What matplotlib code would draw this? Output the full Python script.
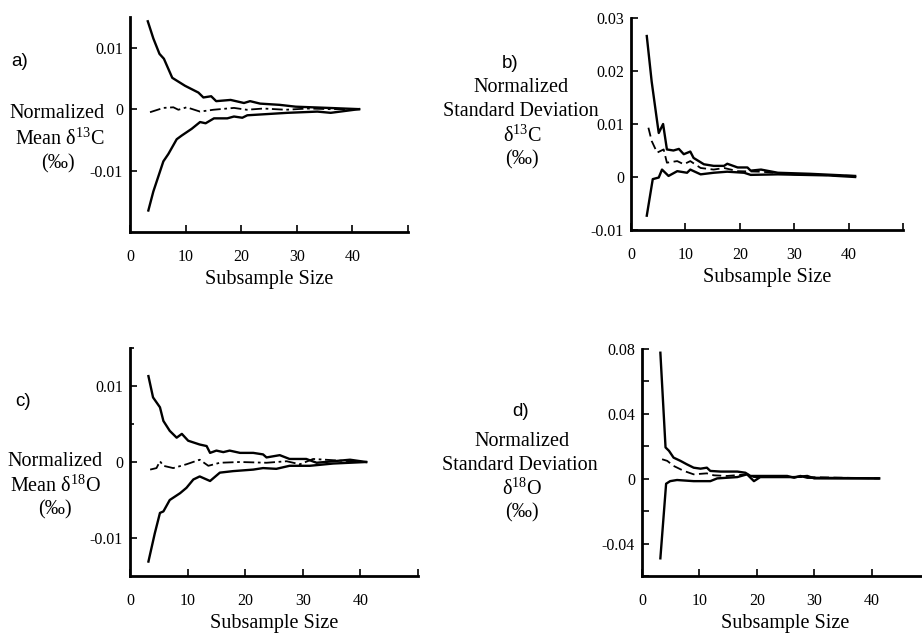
import matplotlib
matplotlib.use("Agg")
import matplotlib.pyplot as plt

plt.rcParams['font.family'] = ['Liberation Serif', 'DejaVu Serif']
plt.rcParams['mathtext.fontset'] = 'custom'
plt.rcParams['mathtext.rm'] = 'Liberation Serif'
plt.rcParams['mathtext.it'] = 'Liberation Serif:italic'

# ---- panel a: normalized mean d13C ----
a_up_x = [3.2, 4.2, 5.3, 6.1, 7.6, 9.9, 12.3, 13.2, 14.6, 15.5, 18.1, 20.5, 21.6, 23.4, 26.9, 29.8, 35.7, 41.2]
a_up_y = [0.0143, 0.0115, 0.0090, 0.0082, 0.0051, 0.0038, 0.0027, 0.0019, 0.0021, 0.0013, 0.0015,
          0.0010, 0.0013, 0.0009, 0.0007, 0.0004, 0.0002, 0.0]
a_lo_x = [3.3, 4.2, 6.0, 6.9, 8.4, 9.3, 11.1, 12.6, 13.6, 15.1, 17.5, 18.7, 20.2, 21.1, 24.7, 28.3, 33.7, 36.1, 41.2]
a_lo_y = [-0.0165, -0.0134, -0.0085, -0.0073, -0.0049, -0.0043, -0.0032, -0.0021, -0.0023, -0.0015,
          -0.0015, -0.0012, -0.0014, -0.0010, -0.0008, -0.0006, -0.0004, -0.0006, 0.0]
a_mid_x = [3.6, 6.0, 7.8, 8.7, 10.2, 12.6, 15.0, 18.7, 21.0, 24.0, 28.0, 32.0, 36.0, 41.2]
a_mid_y = [-0.0005, 0.0002, 0.0003, -0.0001, 0.0003, -0.0004, -0.0001, 0.0002, -0.0001, 0.0001,
           -0.0001, 0.0001, 0.0, 0.0]

# ---- panel b: normalized standard deviation d13C ----
b_up_x = [2.9, 3.8, 4.8, 5.1, 5.9, 6.6, 7.8, 8.8, 9.7, 10.9, 11.5, 13.4, 15.2, 17.1, 17.7, 19.6,
          21.4, 22.0, 23.9, 27.0, 33.0, 41.2]
b_up_y = [0.0266, 0.0180, 0.0105, 0.0083, 0.0100, 0.0052, 0.0050, 0.0053, 0.0043, 0.0048, 0.0036,
          0.0024, 0.0021, 0.0021, 0.0025, 0.0018, 0.0018, 0.0012, 0.0014, 0.0008, 0.0006, 0.0002]
b_mid_x = [3.2, 3.8, 4.8, 6.0, 6.6, 8.5, 9.7, 10.9, 12.8, 15.2, 17.1, 19.6, 23.9, 30.0, 41.2]
b_mid_y = [0.0093, 0.0068, 0.0046, 0.0052, 0.0027, 0.0030, 0.0024, 0.0030, 0.0017, 0.0014, 0.0017,
           0.0011, 0.0010, 0.0005, 0.0002]
b_lo_x = [2.9, 4.0, 5.1, 5.7, 6.9, 8.5, 10.3, 10.9, 12.8, 15.2, 17.7, 20.8, 22.0, 27.0, 36.2, 41.2]
b_lo_y = [-0.0073, -0.0004, -0.0001, 0.0014, 0.0002, 0.0011, 0.0008, 0.0014, 0.0005, 0.0008, 0.0010,
          0.0008, 0.0004, 0.0005, 0.0003, 0.0]

# ---- panel c: normalized mean d18O ----
c_up_x = [3.2, 4.0, 5.2, 5.8, 6.9, 8.1, 9.0, 10.1, 12.1, 13.3, 13.9, 15.0, 16.2, 17.3, 19.1, 21.4,
          23.1, 23.7, 26.0, 27.7, 30.6, 32.4, 35.3, 38.2, 41.0]
c_up_y = [0.0113, 0.0085, 0.0072, 0.0054, 0.0041, 0.0032, 0.0037, 0.0028, 0.0023, 0.0021, 0.0012,
          0.0015, 0.0013, 0.0015, 0.0012, 0.0012, 0.0010, 0.0006, 0.0009, 0.0004, 0.0004, -0.0001,
          0.0001, 0.0003, 0.0]
c_lo_x = [3.2, 4.3, 5.2, 5.8, 6.9, 8.7, 9.8, 11.0, 12.1, 13.9, 15.6, 17.9, 21.4, 23.1, 25.4, 27.7,
          31.2, 35.3, 41.0]
c_lo_y = [-0.0131, -0.0094, -0.0067, -0.0065, -0.0050, -0.0041, -0.0034, -0.0023, -0.0019, -0.0025,
          -0.0014, -0.0012, -0.0010, -0.0008, -0.0009, -0.0005, -0.0005, -0.0002, 0.0]
c_mid_x = [3.5, 4.6, 5.2, 5.8, 7.5, 9.8, 12.1, 13.6, 15.6, 19.1, 23.7, 27.2, 29.5, 31.8, 38.2, 41.0]
c_mid_y = [-0.0010, -0.0008, 0.0001, -0.0005, -0.0008, -0.0003, 0.0003, -0.0005, -0.0001, 0.0,
           -0.0001, 0.0001, -0.0003, 0.0004, 0.0001, 0.0]

# ---- panel d: normalized standard deviation d18O ----
d_up_x = [3.2, 4.1, 4.7, 5.5, 6.7, 7.8, 9.0, 10.2, 11.3, 11.9, 13.7, 16.6, 18.0, 18.9, 20.6, 25.3,
          26.5, 27.6, 28.8, 41.3]
d_up_y = [0.0777, 0.0193, 0.0172, 0.0130, 0.0110, 0.0089, 0.0068, 0.0062, 0.0068, 0.0048, 0.0044,
          0.0044, 0.0037, 0.0017, 0.0017, 0.0017, 0.0006, 0.0017, 0.0006, 0.0002]
d_mid_x = [3.5, 4.4, 5.5, 7.3, 9.0, 11.3, 12.5, 14.8, 18.3, 19.5, 23.5, 28.2, 41.3]
d_mid_y = [0.0120, 0.0110, 0.0079, 0.0048, 0.0027, 0.0033, 0.0021, 0.0017, 0.0027, 0.0010, 0.0010,
           0.0010, 0.0002]
d_lo_x = [3.2, 4.2, 4.9, 6.1, 9.0, 11.9, 13.1, 16.6, 18.3, 19.5, 20.6, 26.5, 28.8, 30.0, 41.3]
d_lo_y = [-0.0491, -0.0031, -0.0015, -0.0008, -0.0015, -0.0015, 0.0002, 0.0010, 0.0027, -0.0015,
          0.0010, 0.0010, 0.0017, 0.0002, 0.0002]

x_ticks = [0, 10, 20, 30, 40, 50]
x_labels = ['0', '10', '20', '30', '40', '']

W, H = 922, 633
fig = plt.figure(figsize=(W / 100, H / 100), dpi=100)


def make_axes(left, top, right, bottom):
    # pixel box -> figure fractions
    ax = fig.add_axes([left / W, 1 - bottom / H, (right - left) / W, (bottom - top) / H])
    ax.spines['top'].set_visible(False)
    ax.spines['right'].set_visible(False)
    ax.spines['left'].set_linewidth(2)
    ax.spines['bottom'].set_linewidth(2)
    ax.tick_params(direction='in', length=5, width=1.2, labelsize=11.5)
    ax.tick_params(axis='x', pad=12)
    ax.tick_params(axis='y', pad=5)
    ax.set_xlim(0, 50)
    ax.set_xticks(x_ticks)
    ax.set_xticklabels(x_labels)
    ax.set_xlabel('Subsample Size', fontsize=14.5, labelpad=4)
    ax.patch.set_alpha(0)
    return ax


def label(x, y, s, **kw):
    fig.text(x / W, 1 - y / H, s, ha='center', va='center', **kw)


lw = 1.7
dashdot = (0, (6, 2, 1.5, 2))
dashed = (0, (5, 2.5))

# a)
ax = make_axes(130, 17, 408, 232)
ax.set_ylim(-0.02, 0.015)
ax.set_yticks([-0.01, 0, 0.01])
ax.set_yticklabels(['-0.01', '0', '0.01'])
ax.plot(a_up_x, a_up_y, color='black', lw=lw)
ax.plot(a_lo_x, a_lo_y, color='black', lw=lw)
ax.plot(a_mid_x, a_mid_y, color='black', lw=1.3, ls=dashdot)
label(20, 61, 'a)', family='Liberation Sans', fontsize=13.5)
label(57, 114, 'Normalized', fontsize=14.5)
label(60, 139, r'Mean δ$^{13}$C', fontsize=14.5)
label(58, 164, '(‰)', fontsize=14.5)

# b)
ax = make_axes(631, 18, 903, 230)
ax.set_ylim(-0.01, 0.03)
ax.set_yticks([-0.01, 0, 0.01, 0.02, 0.03])
ax.set_yticklabels(['-0.01', '0', '0.01', '0.02', '0.03'])
ax.plot(b_up_x, b_up_y, color='black', lw=lw)
ax.plot(b_lo_x, b_lo_y, color='black', lw=lw)
ax.plot(b_mid_x, b_mid_y, color='black', lw=1.3, ls=dashed)
label(510, 63, 'b)', family='Liberation Sans', fontsize=13.5)
label(521, 87, 'Normalized', fontsize=14.5)
label(521, 111, 'Standard Deviation', fontsize=14.5)
label(522, 136, r'δ$^{13}$C', fontsize=14.5)
label(522, 160, '(‰)', fontsize=14.5)

# c)
ax = make_axes(130, 348, 418, 576)
ax.set_ylim(-0.015, 0.015)
ax.set_yticks([-0.01, 0, 0.01])
ax.set_yticklabels(['-0.01', '0', '0.01'])
ax.set_yticks([0.005, 0.015], minor=True)
ax.tick_params(which='minor', direction='in', length=3, width=1.2)
ax.plot(c_up_x, c_up_y, color='black', lw=lw)
ax.plot(c_lo_x, c_lo_y, color='black', lw=lw)
ax.plot(c_mid_x, c_mid_y, color='black', lw=1.3, ls=dashdot)
label(23, 401, 'c)', family='Liberation Sans', fontsize=13.5)
label(55, 461, 'Normalized', fontsize=14.5)
label(55, 486, r'Mean δ$^{18}$O', fontsize=14.5)
label(55, 510, '(‰)', fontsize=14.5)

# d)
ax = make_axes(642, 349, 929, 576)
ax.set_ylim(-0.06, 0.08)
ax.set_yticks([-0.06, -0.04, -0.02, 0, 0.02, 0.04, 0.06, 0.08])
ax.set_yticklabels(['', '-0.04', '', '0', '', '0.04', '', '0.08'])
ax.plot(d_up_x, d_up_y, color='black', lw=lw)
ax.plot(d_lo_x, d_lo_y, color='black', lw=lw)
ax.plot(d_mid_x, d_mid_y, color='black', lw=1.3, ls=dashed)
label(521, 411, 'd)', family='Liberation Sans', fontsize=13.5)
label(522, 441, 'Normalized', fontsize=14.5)
label(520, 465, 'Standard Deviation', fontsize=14.5)
label(522, 489, r'δ$^{18}$O', fontsize=14.5)
label(522, 513, '(‰)', fontsize=14.5)

fig.savefig('out.png', dpi=100)
